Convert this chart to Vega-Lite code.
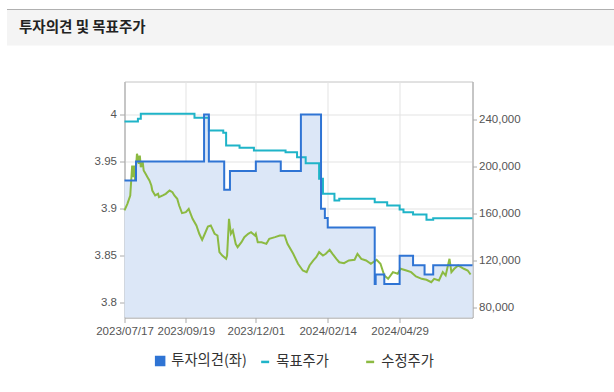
{
  "$schema": "https://vega.github.io/schema/vega-lite/v6.json",
  "background": "white",
  "padding": {"left": 6.5, "top": 8.5, "right": 0, "bottom": 0},
  "spacing": 34,
  "config": {"font": "Liberation Sans"},
  "datasets": {
    "opinion": [
      {"date": "2023-07-17", "opinion": 3.93},
      {"date": "2023-07-29", "opinion": 3.95},
      {"date": "2023-10-08", "opinion": 4.0},
      {"date": "2023-10-13", "opinion": 3.95},
      {"date": "2023-10-29", "opinion": 3.92},
      {"date": "2023-11-04", "opinion": 3.94},
      {"date": "2023-12-01", "opinion": 3.95},
      {"date": "2023-12-27", "opinion": 3.94},
      {"date": "2024-01-17", "opinion": 4.0},
      {"date": "2024-02-07", "opinion": 3.90},
      {"date": "2024-02-11", "opinion": 3.89},
      {"date": "2024-02-14", "opinion": 3.88},
      {"date": "2024-04-03", "opinion": 3.82},
      {"date": "2024-04-04", "opinion": 3.83},
      {"date": "2024-04-13", "opinion": 3.82},
      {"date": "2024-04-29", "opinion": 3.85},
      {"date": "2024-05-13", "opinion": 3.84},
      {"date": "2024-05-25", "opinion": 3.83},
      {"date": "2024-06-03", "opinion": 3.84},
      {"date": "2024-07-14", "opinion": 3.84}
    ],
    "target": [
      {"date": "2023-07-17", "value": 238500},
      {"date": "2023-07-31", "value": 241000},
      {"date": "2023-08-03", "value": 245100},
      {"date": "2023-09-28", "value": 241700},
      {"date": "2023-10-13", "value": 230900},
      {"date": "2023-10-28", "value": 228900},
      {"date": "2023-10-31", "value": 218100},
      {"date": "2023-11-14", "value": 216100},
      {"date": "2023-11-29", "value": 213800},
      {"date": "2024-01-01", "value": 212300},
      {"date": "2024-01-13", "value": 208100},
      {"date": "2024-01-22", "value": 202900},
      {"date": "2024-02-05", "value": 189600},
      {"date": "2024-02-09", "value": 176800},
      {"date": "2024-02-21", "value": 171100},
      {"date": "2024-02-26", "value": 172600},
      {"date": "2024-04-03", "value": 169600},
      {"date": "2024-04-16", "value": 166800},
      {"date": "2024-04-29", "value": 163500},
      {"date": "2024-05-03", "value": 161100},
      {"date": "2024-05-13", "value": 159100},
      {"date": "2024-05-27", "value": 154600},
      {"date": "2024-06-03", "value": 156000},
      {"date": "2024-07-14", "value": 156000}
    ],
    "price": [
      {"date": "2023-07-17", "value": 162600},
      {"date": "2023-07-20", "value": 168300},
      {"date": "2023-07-23", "value": 175400},
      {"date": "2023-07-25", "value": 201000},
      {"date": "2023-07-26", "value": 191000},
      {"date": "2023-07-27", "value": 201000},
      {"date": "2023-07-28", "value": 188200},
      {"date": "2023-07-30", "value": 211000},
      {"date": "2023-07-31", "value": 208100},
      {"date": "2023-08-01", "value": 202400},
      {"date": "2023-08-02", "value": 209500},
      {"date": "2023-08-03", "value": 199500},
      {"date": "2023-08-05", "value": 203800},
      {"date": "2023-08-06", "value": 196700},
      {"date": "2023-08-08", "value": 193900},
      {"date": "2023-08-10", "value": 191000},
      {"date": "2023-08-12", "value": 188200},
      {"date": "2023-08-14", "value": 183900},
      {"date": "2023-08-15", "value": 179600},
      {"date": "2023-08-18", "value": 175400},
      {"date": "2023-08-21", "value": 176800},
      {"date": "2023-08-22", "value": 173900},
      {"date": "2023-08-26", "value": 175400},
      {"date": "2023-08-29", "value": 176800},
      {"date": "2023-09-02", "value": 179600},
      {"date": "2023-09-05", "value": 178200},
      {"date": "2023-09-07", "value": 175400},
      {"date": "2023-09-10", "value": 172600},
      {"date": "2023-09-12", "value": 166800},
      {"date": "2023-09-15", "value": 160300},
      {"date": "2023-09-19", "value": 161100},
      {"date": "2023-09-22", "value": 164000},
      {"date": "2023-09-26", "value": 155500},
      {"date": "2023-09-30", "value": 149800},
      {"date": "2023-10-03", "value": 142700},
      {"date": "2023-10-06", "value": 137500},
      {"date": "2023-10-08", "value": 141200},
      {"date": "2023-10-12", "value": 148900},
      {"date": "2023-10-15", "value": 149800},
      {"date": "2023-10-19", "value": 142700},
      {"date": "2023-10-22", "value": 141200},
      {"date": "2023-10-24", "value": 127000},
      {"date": "2023-10-27", "value": 124100},
      {"date": "2023-10-31", "value": 121300},
      {"date": "2023-11-01", "value": 124100},
      {"date": "2023-11-03", "value": 155500},
      {"date": "2023-11-05", "value": 142700},
      {"date": "2023-11-07", "value": 145500},
      {"date": "2023-11-10", "value": 134100},
      {"date": "2023-11-12", "value": 131200},
      {"date": "2023-11-16", "value": 135500},
      {"date": "2023-11-19", "value": 139800},
      {"date": "2023-11-23", "value": 142700},
      {"date": "2023-11-26", "value": 144000},
      {"date": "2023-11-30", "value": 141200},
      {"date": "2023-12-01", "value": 142700},
      {"date": "2023-12-03", "value": 135500},
      {"date": "2023-12-07", "value": 135500},
      {"date": "2023-12-12", "value": 134100},
      {"date": "2023-12-15", "value": 138400},
      {"date": "2023-12-21", "value": 139800},
      {"date": "2023-12-26", "value": 141200},
      {"date": "2023-12-31", "value": 141200},
      {"date": "2024-01-03", "value": 134100},
      {"date": "2024-01-09", "value": 125600},
      {"date": "2024-01-14", "value": 117100},
      {"date": "2024-01-19", "value": 111300},
      {"date": "2024-01-23", "value": 109900},
      {"date": "2024-01-26", "value": 115600},
      {"date": "2024-01-30", "value": 119900},
      {"date": "2024-02-02", "value": 122700},
      {"date": "2024-02-05", "value": 127000},
      {"date": "2024-02-09", "value": 124100},
      {"date": "2024-02-12", "value": 125600},
      {"date": "2024-02-16", "value": 129000},
      {"date": "2024-02-19", "value": 125600},
      {"date": "2024-02-23", "value": 121300},
      {"date": "2024-02-26", "value": 118400},
      {"date": "2024-03-02", "value": 117600},
      {"date": "2024-03-07", "value": 119900},
      {"date": "2024-03-13", "value": 120500},
      {"date": "2024-03-16", "value": 125600},
      {"date": "2024-03-20", "value": 121300},
      {"date": "2024-03-25", "value": 119900},
      {"date": "2024-03-30", "value": 117100},
      {"date": "2024-04-05", "value": 120500},
      {"date": "2024-04-09", "value": 117100},
      {"date": "2024-04-13", "value": 107100},
      {"date": "2024-04-17", "value": 104200},
      {"date": "2024-04-22", "value": 109900},
      {"date": "2024-04-27", "value": 108500},
      {"date": "2024-04-30", "value": 112800},
      {"date": "2024-05-06", "value": 111300},
      {"date": "2024-05-11", "value": 109900},
      {"date": "2024-05-16", "value": 106200},
      {"date": "2024-05-22", "value": 104200},
      {"date": "2024-05-27", "value": 103400},
      {"date": "2024-06-01", "value": 101300},
      {"date": "2024-06-04", "value": 104200},
      {"date": "2024-06-09", "value": 102800},
      {"date": "2024-06-13", "value": 109900},
      {"date": "2024-06-16", "value": 107100},
      {"date": "2024-06-20", "value": 121300},
      {"date": "2024-06-22", "value": 109900},
      {"date": "2024-06-25", "value": 112800},
      {"date": "2024-06-29", "value": 115600},
      {"date": "2024-07-02", "value": 114200},
      {"date": "2024-07-05", "value": 112800},
      {"date": "2024-07-09", "value": 111300},
      {"date": "2024-07-12", "value": 107900}
    ],
    "header": [{"title": "투자의견 및 목표주가"}]
  },
  "vconcat": [
    {
      "width": 489.5,
      "height": 36,
      "view": {"stroke": null},
      "data": {"name": "header"},
      "mark": {"type": "rect", "fill": "#f4f4f4", "stroke": "#b0b0b0", "strokeWidth": 1, "strokeDash": [607, 5000], "clip": false},
      "encoding": {
        "x": {"datum": 0, "type": "quantitative", "scale": {"domain": [0, 1], "range": [-117.5, 489.5]}, "axis": null},
        "x2": {"datum": 1}
      },
      "title": {
        "text": "투자의견 및 목표주가",
        "anchor": "start",
        "frame": "group",
        "orient": "top",
        "offset": -33,
        "baseline": "middle",
        "dx": -105.5,
        "font": "Noto Sans CJK KR",
        "fontSize": 14.5,
        "fontWeight": "bold",
        "color": "#222222"
      }
    },
    {
      "width": 348,
      "height": 236,
      "view": {"stroke": "#c4c4c4"},
      "encoding": {
        "x": {
          "field": "date",
          "type": "temporal",
          "scale": {
            "type": "utc",
            "domain": [
              {"year": 2023, "month": 7, "date": 17, "utc": true},
              {"year": 2024, "month": 7, "date": 14, "utc": true}
            ]
          },
          "axis": {
            "title": null,
            "values": [
              {"year": 2023, "month": 7, "date": 17, "utc": true},
              {"year": 2023, "month": 9, "date": 19, "utc": true},
              {"year": 2023, "month": 12, "date": 1, "utc": true},
              {"year": 2024, "month": 2, "date": 14, "utc": true},
              {"year": 2024, "month": 4, "date": 29, "utc": true}
            ],
            "format": "%Y/%m/%d",
            "labelFlush": false,
            "labelOverlap": false,
            "grid": true,
            "gridColor": "#e3e3e3",
            "domainColor": "#aaaaaa",
            "tickColor": "#aaaaaa",
            "tickSize": 5,
            "labelPadding": 3,
            "labelFontSize": 11.5,
            "labelColor": "#555555"
          }
        }
      },
      "layer": [
        {
          "data": {"name": "opinion"},
          "mark": {"type": "area", "interpolate": "step-after", "color": "#dce7f7"},
          "encoding": {
            "y": {
              "field": "opinion",
              "type": "quantitative",
              "scale": {"domain": [3.7844, 4.035], "nice": false, "zero": false},
              "axis": {
                "orient": "left",
                "title": null,
                "values": [3.8, 3.85, 3.9, 3.95, 4],
                "format": "~g",
                "grid": true,
                "gridColor": "#e3e3e3",
                "domainColor": "#aaaaaa",
                "tickColor": "#aaaaaa",
                "tickSize": 5,
                "labelPadding": 3,
                "labelFontSize": 11.5,
                "labelColor": "#555555",
                "minExtent": 117.5
              }
            },
            "y2": {"datum": 3.7844}
          }
        },
        {
          "data": {"name": "target"},
          "mark": {"type": "line", "interpolate": "step-after", "strokeWidth": 2},
          "encoding": {
            "y": {
              "field": "value",
              "type": "quantitative",
              "scale": {"domain": [71200, 272700], "nice": false, "zero": false},
              "axis": {
                "orient": "right",
                "title": null,
                "values": [80000, 120000, 160000, 200000, 240000],
                "labelExpr": "format(datum.value, ',')",
                "grid": false,
                "domainColor": "#aaaaaa",
                "tickColor": "#aaaaaa",
                "tickSize": 4,
                "labelPadding": 2,
                "labelFontSize": 11.5,
                "labelColor": "#555555"
              }
            },
            "color": {
              "datum": "목표주가",
              "scale": {"domain": ["투자의견(좌)", "목표주가", "수정주가"], "range": ["#2f74d4", "#1fb4c8", "#8cba42"]},
              "legend": {
                "title": null,
                "orient": "none",
                "legendX": 28.5,
                "legendY": 344,
                "direction": "horizontal",
                "columns": 3,
                "gridAlign": "all",
                "columnPadding": 9,
                "padding": 0,
                "labelFont": "Noto Sans CJK KR",
                "labelFontSize": 14.3,
                "labelColor": "#333333",
                "labelOffset": 4,
                "symbolSize": 64,
                "symbolStrokeWidth": 2.5,
                "encode": {
                  "symbols": {
                    "update": {
                      "shape": {"signal": "datum.value === '투자의견(좌)' ? 'square' : 'stroke'"},
                      "fill": {"signal": "datum.value === '투자의견(좌)' ? '#2f74d4' : 'transparent'"},
                      "stroke": {"signal": "datum.value === '투자의견(좌)' ? 'transparent' : scale('color', datum.value)"},
                      "strokeWidth": {"value": 2.5}
                    }
                  }
                }
              }
            }
          }
        },
        {
          "data": {"name": "price"},
          "mark": {"type": "line", "strokeWidth": 2},
          "encoding": {
            "y": {
              "field": "value",
              "type": "quantitative",
              "scale": {"domain": [71200, 272700], "nice": false, "zero": false},
              "axis": null
            },
            "color": {"datum": "수정주가"}
          }
        },
        {
          "data": {"name": "opinion"},
          "mark": {"type": "line", "interpolate": "step-after", "strokeWidth": 2},
          "encoding": {
            "y": {
              "field": "opinion",
              "type": "quantitative",
              "scale": {"domain": [3.7844, 4.035], "nice": false, "zero": false},
              "axis": null
            },
            "color": {"datum": "투자의견(좌)"}
          }
        }
      ],
      "resolve": {"scale": {"y": "independent"}, "axis": {"y": "independent"}}
    }
  ]
}
